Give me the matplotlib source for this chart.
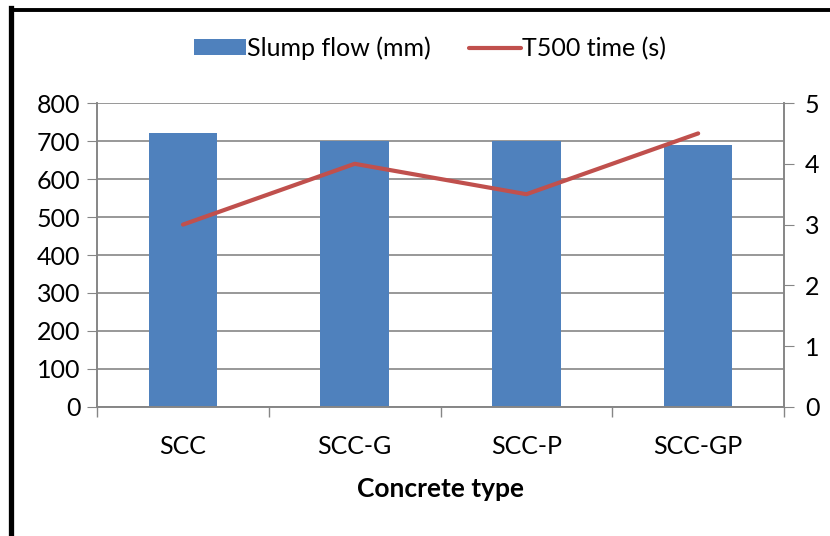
import matplotlib.pyplot as plt
from matplotlib.lines import Line2D

plt.rcParams['font.family'] = ['Lato', 'DejaVu Sans']

categories = ['SCC', 'SCC-G', 'SCC-P', 'SCC-GP']
slump_flow = [720, 700, 700, 690]
t500_time = [3.0, 4.0, 3.5, 4.5]

grey = '#868686'
W, H = 830, 536

fig = plt.figure(figsize=(8.3, 5.36), dpi=100)
ax = fig.add_axes([0.117, 0.2407, 0.8276, 0.5671])
ax2 = ax.twinx()

x = list(range(len(categories)))
bars = ax.bar(x, slump_flow, width=0.4, color='#4F81BD', label='Slump flow (mm)', zorder=2)
line, = ax2.plot(x, t500_time, color='#C0504D', linewidth=3, solid_capstyle='round',
                 label='T500 time (s)', zorder=3)

ax.set_xlim(-0.5, 3.5)
ax.set_ylim(0, 800)
ax.set_yticks(range(0, 801, 100))
ax2.set_ylim(0, 5)
ax2.set_yticks(range(0, 6))

ax.set_xticks([-0.5, 0.5, 1.5, 2.5, 3.5])
ax.set_xticklabels([])
ax.set_xticks(x, minor=True)
ax.set_xticklabels(categories, minor=True)
ax.tick_params(axis='x', which='major', direction='out', length=7, color=grey, width=1)
ax.tick_params(axis='x', which='minor', length=0, labelsize=18, pad=20)
ax.tick_params(axis='y', direction='out', length=7, color=grey, labelsize=18, pad=5)
ax2.tick_params(axis='y', direction='out', length=7, color=grey, labelsize=18, pad=8)

ax.grid(axis='y', color=grey, linewidth=1.2, zorder=0)
ax.set_axisbelow(True)
for a in (ax, ax2):
    a.spines['top'].set_visible(False)
    for s in ('left', 'right', 'bottom'):
        a.spines[s].set_color(grey)
        a.spines[s].set_linewidth(1.2)

ax.set_xlabel('Concrete type', fontsize=19, fontweight='bold', labelpad=14)

fig.legend([bars, line], ['Slump flow (mm)', 'T500 time (s)'], loc='center',
           bbox_to_anchor=(0.518, 0.91), ncol=2, frameon=False, fontsize=18,
           handlelength=2.1, handleheight=0.6, handletextpad=0.05, columnspacing=1.5)

# black frame: only left and top edges show in the picture
fig.add_artist(Line2D([10.5 / W, 10.5 / W], [0, 1 - 8 / H], transform=fig.transFigure,
                      color='black', linewidth=3.8, solid_capstyle='projecting'))
fig.add_artist(Line2D([10.5 / W, 1], [1 - 9.5 / H, 1 - 9.5 / H], transform=fig.transFigure,
                      color='black', linewidth=2.8))

fig.savefig('out.png', dpi=100)
